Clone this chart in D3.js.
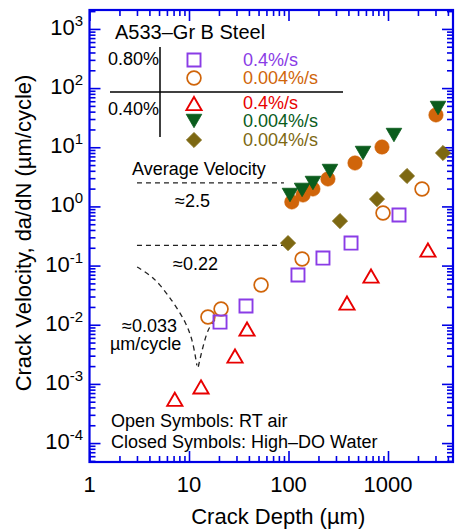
<!DOCTYPE html>
<html><head><meta charset="utf-8">
<script src="https://cdn.jsdelivr.net/npm/d3@7"></script>
<style>
html,body{margin:0;padding:0;background:#fff;}
svg{display:block;font-family:"Liberation Sans",Arial,Helvetica,sans-serif;}
</style></head><body>
<svg id="chart" width="456" height="532"></svg>
<script>
// ---------------- data ----------------
const xTickValues = [1, 10, 100, 1000];
const xTickLabels = ["1", "10", "100", "1000"];
const yTickExponents = [-4, -3, -2, -1, 0, 1, 2, 3];

// 0.80% strain, 0.4%/s, RT air (open squares)
const sqDepth = [20.5, 37.4, 124.5, 222, 425, 1290];
const sqVel   = [0.0111, 0.0207, 0.0692, 0.134, 0.240, 0.716];
// 0.80% strain, 0.004%/s, RT air (open circles)
const ocDepth = [15.5, 21, 53, 137, 891, 2197];
const ocVel   = [0.0135, 0.0184, 0.0469, 0.129, 0.774, 1.97];
// 0.40% strain, 0.4%/s, RT air (open triangles)
const triDepth = [7.2, 13.2, 29, 38.3, 387, 675, 2520];
const triVel   = [0.00055, 0.00089, 0.00296, 0.00845, 0.0233, 0.0665, 0.183];
// 0.80% strain, 0.004%/s, high-DO water (filled circles)
const fcDepth = [108, 140, 176, 249, 466, 870, 3034];
const fcVel   = [1.19, 1.56, 1.97, 2.91, 5.42, 10.1, 35.2];
// 0.40% strain, 0.004%/s, high-DO water (filled down triangles)
const gtDepth = [103.5, 137, 176, 261, 561, 1148, 3184];
const gtVel   = [1.56, 1.90, 2.49, 3.97, 8.0, 16.1, 46.1];
// 0.40% strain, 0.004%/s, high-DO water (filled diamonds)
const dmDepth = [98.9, 329, 775, 1552, 3572];
const dmVel   = [0.240, 0.566, 1.33, 3.27, 8.0];

// average velocity reference lines
const avgVel = [2.5, 0.22];
const avgDepthRange = [3, 90];
// dashed curve (two branches)
const curveADepth = [3.01, 4.35, 6.44, 9.11, 10.7, 12.0];
const curveAVel   = [0.0946, 0.0617, 0.0283, 0.0111, 0.0055, 0.00205];
const curveBDepth = [12.4, 15.6, 19.0];
const curveBVel   = [0.00195, 0.0081, 0.0133];

// ---------------- chart ----------------
const svg = d3.select("#chart");
const L = 89.5, R = 453, T = 10, B = 462;
const AXIS = "#0000e6";
const x = d3.scaleLog().domain([1, 4500]).range([L, R]);
const y = d3.scaleLog().domain([Math.pow(10, -4.32), Math.pow(10, 3.32)]).range([B, T]);

function minors(scale) {
  const [lo, hi] = scale.domain();
  const out = [];
  for (let e = Math.floor(Math.log10(lo)); e <= Math.ceil(Math.log10(hi)); e++) {
    for (let k = 2; k <= 9; k++) {
      const v = k * Math.pow(10, e);
      if (v >= lo && v <= hi) out.push(v);
    }
  }
  return out;
}
const xMinor = minors(x), yMinor = minors(y);
const yMajor = yTickExponents.map(e => Math.pow(10, e));

function styleAxis(g) {
  g.select(".domain").remove();
  g.selectAll("line").attr("stroke", AXIS).attr("stroke-width", 1.6);
}
const MAJ = 11, MIN = 6;
svg.append("g").attr("transform", `translate(0,${B})`)
  .call(d3.axisBottom(x).tickValues(xTickValues).tickSize(-MAJ).tickFormat("")).call(styleAxis);
svg.append("g").attr("transform", `translate(0,${B})`)
  .call(d3.axisBottom(x).tickValues(xMinor).tickSize(-MIN).tickFormat("")).call(styleAxis);
svg.append("g").attr("transform", `translate(0,${T})`)
  .call(d3.axisTop(x).tickValues(xTickValues).tickSize(-MAJ).tickFormat("")).call(styleAxis);
svg.append("g").attr("transform", `translate(0,${T})`)
  .call(d3.axisTop(x).tickValues(xMinor).tickSize(-MIN).tickFormat("")).call(styleAxis);
svg.append("g").attr("transform", `translate(${L},0)`)
  .call(d3.axisLeft(y).tickValues(yMajor).tickSize(-MAJ).tickFormat("")).call(styleAxis);
svg.append("g").attr("transform", `translate(${L},0)`)
  .call(d3.axisLeft(y).tickValues(yMinor).tickSize(-MIN).tickFormat("")).call(styleAxis);
svg.append("g").attr("transform", `translate(${R},0)`)
  .call(d3.axisRight(y).tickValues(yMajor).tickSize(-MAJ).tickFormat("")).call(styleAxis);
svg.append("g").attr("transform", `translate(${R},0)`)
  .call(d3.axisRight(y).tickValues(yMinor).tickSize(-MIN).tickFormat("")).call(styleAxis);

svg.append("rect").attr("x", L).attr("y", T).attr("width", R - L).attr("height", B - T)
  .attr("fill", "none").attr("stroke", AXIS).attr("stroke-width", 2.2);

// tick labels
svg.append("g").selectAll("text").data(xTickValues).join("text")
  .attr("x", d => x(d)).attr("y", 492).attr("text-anchor", "middle")
  .attr("font-size", 22).attr("fill", "#000").text((d, i) => xTickLabels[i]);
const yl = svg.append("g").selectAll("text").data(yTickExponents).join("text")
  .attr("x", 83).attr("y", d => y(Math.pow(10, d)) + 6).attr("text-anchor", "end")
  .attr("font-size", 22).attr("fill", "#000");
yl.append("tspan").text("10");
yl.append("tspan").attr("dy", -9).attr("font-size", 15).text(d => String(d));

// axis titles
svg.append("text").attr("x", (L + R) / 2 + 7).attr("y", 524).attr("text-anchor", "middle")
  .attr("font-size", 22).text("Crack Depth (\u00b5m)");
svg.append("text").attr("transform", `translate(31,${(T + B) / 2 - 3}) rotate(-90)`)
  .attr("text-anchor", "middle").attr("font-size", 22).text("Crack Velocity, da/dN (\u00b5m/cycle)");

// dashed reference lines
const dash = "5,4";
svg.append("g").selectAll("line").data(avgVel).join("line")
  .attr("x1", x(avgDepthRange[0])).attr("x2", x(avgDepthRange[1]))
  .attr("y1", d => y(d)).attr("y2", d => y(d))
  .attr("stroke", "#222").attr("stroke-width", 1.3).attr("stroke-dasharray", dash);
const lineGen = d3.line().x(d => x(d[0])).y(d => y(d[1])).curve(d3.curveCatmullRom.alpha(0.5));
svg.append("path").attr("d", lineGen(curveADepth.map((d, i) => [d, curveAVel[i]])))
  .attr("fill", "none").attr("stroke", "#222").attr("stroke-width", 1.3).attr("stroke-dasharray", dash);
svg.append("path").attr("d", lineGen(curveBDepth.map((d, i) => [d, curveBVel[i]])))
  .attr("fill", "none").attr("stroke", "#222").attr("stroke-width", 1.3).attr("stroke-dasharray", dash);

// symbol types (bbox-centered triangles, square diamond)
const triUp = { draw(ctx, size) { const s = Math.sqrt(size * 4 / Math.sqrt(3)); const h = s * Math.sqrt(3) / 2;
  ctx.moveTo(0, -h / 2); ctx.lineTo(s / 2, h / 2); ctx.lineTo(-s / 2, h / 2); ctx.closePath(); } };
const triDown = { draw(ctx, size) { const s = Math.sqrt(size * 4 / Math.sqrt(3)); const h = s * Math.sqrt(3) / 2;
  ctx.moveTo(0, h / 2); ctx.lineTo(s / 2, -h / 2); ctx.lineTo(-s / 2, -h / 2); ctx.closePath(); } };
const diamond = { draw(ctx, size) { const r = Math.sqrt(size / 2);
  ctx.moveTo(0, -r); ctx.lineTo(r, 0); ctx.lineTo(0, r); ctx.lineTo(-r, 0); ctx.closePath(); } };

const C = { purple: "#8a3ce6", orange: "#d0650a", red: "#e80000", green: "#0a5c1c", olive: "#7d6812" };
const series = [
  { xs: dmDepth, ys: dmVel, type: diamond, size: 115, fill: C.olive, stroke: C.olive, sw: 0.8 },
  { xs: ocDepth, ys: ocVel, type: d3.symbolCircle, size: 150, fill: "none", stroke: C.orange, sw: 1.7 },
  { xs: sqDepth, ys: sqVel, type: d3.symbolSquare, size: 170, fill: "none", stroke: C.purple, sw: 1.9 },
  { xs: triDepth, ys: triVel, type: triUp, size: 100, fill: "none", stroke: C.red, sw: 1.9 },
  { xs: fcDepth, ys: fcVel, type: d3.symbolCircle, size: 165, fill: C.orange, stroke: C.orange, sw: 0.5 },
  { xs: gtDepth, ys: gtVel, type: triDown, size: 105, fill: C.green, stroke: C.green, sw: 0.8 },
];
series.forEach(s => {
  svg.append("g").selectAll("path").data(s.xs.map((d, i) => [d, s.ys[i]])).join("path")
    .attr("transform", d => `translate(${x(d[0])},${y(d[1])})`)
    .attr("d", d3.symbol().type(s.type).size(s.size)())
    .attr("fill", s.fill).attr("stroke", s.stroke).attr("stroke-width", s.sw);
});

// annotations
const ann = svg.append("g").attr("font-size", 18).attr("fill", "#000");
ann.append("text").attr("x", 132).attr("y", 175).text("Average Velocity");
ann.append("text").attr("x", 175).attr("y", 207).text("\u22482.5");
ann.append("text").attr("x", 173).attr("y", 270).text("\u22480.22");
const a033 = ann.append("text").attr("y", 332);
a033.append("tspan").attr("x", 122).text("\u22480.033");
a033.append("tspan").attr("x", 110).attr("dy", 18).text("\u00b5m/cycle");
const sym = ann.append("text").attr("y", 427);
sym.append("tspan").attr("x", 111).text("Open Symbols: RT air");
sym.append("tspan").attr("x", 111).attr("dy", 21).text("Closed Symbols: High\u2013DO Water");

// legend
const lg = svg.append("g");
lg.append("text").attr("x", 115).attr("y", 39).attr("font-size", 20).text("A533\u2013Gr B Steel");
lg.append("text").attr("x", 108).attr("y", 65).attr("font-size", 18).text("0.80%");
lg.append("text").attr("x", 108).attr("y", 115).attr("font-size", 18).text("0.40%");
lg.append("line").attr("x1", 160).attr("x2", 160).attr("y1", 47).attr("y2", 137).attr("stroke", "#000").attr("stroke-width", 1.5);
lg.append("line").attr("x1", 110).attr("x2", 343).attr("y1", 92).attr("y2", 92).attr("stroke", "#000").attr("stroke-width", 1.5);
const legendRows = [
  { s: series[2], cy: 60, label: "0.4%/s", color: C.purple },
  { s: series[1], cy: 78, label: "0.004%/s", color: C.orange },
  { s: series[3], cy: 103.5, label: "0.4%/s", color: C.red },
  { s: series[5], cy: 121, label: "0.004%/s", color: C.green },
  { s: series[0], cy: 140, label: "0.004%/s", color: C.olive },
];
legendRows.forEach(r => {
  lg.append("path").attr("transform", `translate(194,${r.cy})`)
    .attr("d", d3.symbol().type(r.s.type).size(r.s.size)())
    .attr("fill", r.s.fill).attr("stroke", r.s.stroke).attr("stroke-width", r.s.sw);
});
const legendText = lg.append("text").attr("font-size", 18).attr("y", legendRows[0].cy + 5.5);
legendRows.forEach((r, i) => {
  legendText.append("tspan").attr("x", 243)
    .attr("dy", i === 0 ? 0 : r.cy - legendRows[i - 1].cy)
    .attr("fill", r.color).text(r.label);
});
</script>
</body></html>
